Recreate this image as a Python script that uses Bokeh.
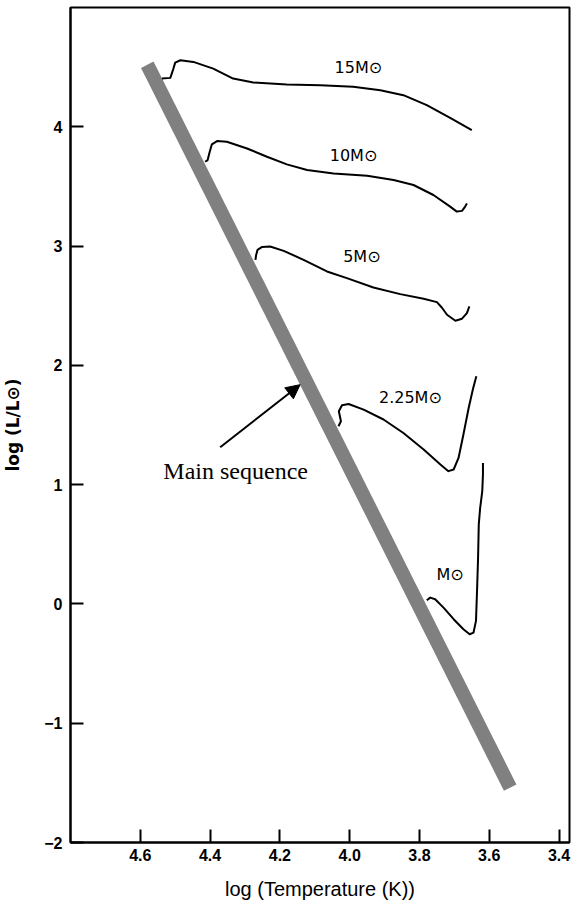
from bokeh.plotting import figure
from bokeh.models import Range1d, FixedTicker, PrintfTickFormatter, Arrow, NormalHead, ColumnDataSource
from bokeh.core.properties import value
from bokeh.embed import file_html
from bokeh.resources import INLINE

# ---- data ----
ms_logT = [4.58, 3.54]
ms_logL = [4.52, -1.54]

m15_logT = [4.538, 4.514, 4.505, 4.500, 4.485, 4.448, 4.391, 4.334, 4.276, 4.180, 4.084,
            3.990, 3.912, 3.846, 3.779, 3.712, 3.650]
m15_logL = [4.404, 4.410, 4.488, 4.538, 4.558, 4.544, 4.488, 4.404, 4.371, 4.354, 4.349,
            4.335, 4.307, 4.265, 4.182, 4.075, 3.972]

m10_logT = [4.414, 4.407, 4.401, 4.395, 4.380, 4.352, 4.294, 4.237, 4.180, 4.122, 4.046,
            3.950, 3.874, 3.817, 3.760, 3.712, 3.693, 3.678, 3.669, 3.664]
m10_logL = [3.707, 3.721, 3.791, 3.852, 3.880, 3.874, 3.818, 3.749, 3.685, 3.638, 3.609,
            3.590, 3.554, 3.512, 3.428, 3.331, 3.289, 3.295, 3.331, 3.358]

m5_logT = [4.270, 4.268, 4.264, 4.251, 4.228, 4.189, 4.132, 4.065, 4.008, 3.932, 3.855,
           3.788, 3.750, 3.736, 3.721, 3.697, 3.678, 3.664, 3.657]
m5_logL = [2.885, 2.926, 2.968, 2.993, 2.996, 2.960, 2.885, 2.787, 2.731, 2.653, 2.597,
           2.558, 2.530, 2.485, 2.424, 2.374, 2.391, 2.438, 2.494]

m225_logT = [4.032, 4.025, 4.031, 4.022, 4.003, 3.960, 3.903, 3.846, 3.788, 3.740, 3.717,
             3.702, 3.688, 3.674, 3.659, 3.647, 3.637]
m225_logL = [1.490, 1.531, 1.615, 1.665, 1.676, 1.629, 1.546, 1.433, 1.295, 1.169, 1.113,
             1.127, 1.224, 1.420, 1.643, 1.797, 1.908]

m1_logT = [3.779, 3.769, 3.755, 3.731, 3.702, 3.674, 3.656, 3.645, 3.638, 3.635, 3.632,
           3.630, 3.626, 3.620, 3.618, 3.618]
m1_logL = [0.031, 0.053, 0.039, -0.031, -0.128, -0.212, -0.254, -0.240, -0.142, 0.109, 0.387,
           0.667, 0.806, 0.946, 1.085, 1.182]

label_text = ["15M⊙", "10M⊙", "5M⊙", "2.25M⊙", "M⊙"]
label_logT = [3.975, 3.989, 3.965, 3.826, 3.712]
label_logL = [4.50, 3.763, 2.912, 1.727, 0.25]

ms_text = "Main sequence"
ms_text_logT = 4.534
ms_text_logL = 1.113
arrow_from = (4.371, 1.314)
arrow_to = (4.142, 1.838)

x_ticks = [4.6, 4.4, 4.2, 4.0, 3.8, 3.6, 3.4]
y_ticks = [-2, -1, 0, 1, 2, 3, 4]

# ---- figure ----
p = figure(width=572, height=907, output_backend="svg", toolbar_location=None,
           x_range=Range1d(4.80, 3.37), y_range=Range1d(-2.0, 5.0),
           min_border_left=70, min_border_right=3, min_border_top=7, min_border_bottom=65)
p.xgrid.visible = False
p.ygrid.visible = False
p.outline_line_color = "black"
p.outline_line_width = 2
p.background_fill_color = "white"
p.border_fill_color = "white"

FONT = "Liberation Sans"
for ax in (p.xaxis[0], p.yaxis[0]):
    ax.axis_line_width = 2
    ax.axis_line_color = "black"
    ax.major_tick_in = 13
    ax.major_tick_out = 0
    ax.major_tick_line_width = 2
    ax.minor_tick_line_color = None
    ax.major_label_text_font = FONT
    ax.major_label_text_font_size = "16px"
    ax.major_label_text_font_style = "bold"
    ax.major_label_text_color = "black"
    ax.axis_label_text_color = "black"

p.xaxis.ticker = FixedTicker(ticks=x_ticks)
p.xaxis.formatter = PrintfTickFormatter(format="%.1f")
p.xaxis.major_label_standoff = 6
p.xaxis.axis_label = "log (Temperature (K))"
p.xaxis.axis_label_text_font = FONT
p.xaxis.axis_label_text_font_size = "20px"
p.xaxis.axis_label_text_font_style = "normal"
p.xaxis.axis_label_standoff = 14

p.yaxis.ticker = FixedTicker(ticks=y_ticks)
p.yaxis.major_label_standoff = 8
p.yaxis.axis_label = "log (L/L⊙)"
p.yaxis.axis_label_text_font = "DejaVu Sans"
p.yaxis.axis_label_text_font_size = "17px"
p.yaxis.axis_label_text_font_style = "bold"
p.yaxis.axis_label_standoff = 18

# main sequence band
p.line(ms_logT, ms_logL, line_width=14, line_color="#808080", line_cap="butt")

# tracks
for xs, ys in [(m15_logT, m15_logL), (m10_logT, m10_logL), (m5_logT, m5_logL),
               (m225_logT, m225_logL), (m1_logT, m1_logL)]:
    p.line(xs, ys, line_width=2, line_color="black", line_join="round")

src = ColumnDataSource(dict(x=label_logT, y=label_logL, t=label_text))
p.text(x="x", y="y", text="t", source=src, text_font=value("DejaVu Sans"), text_font_size="16px",
       text_align="center", text_baseline="middle", text_color="black")

p.text(x=[ms_text_logT], y=[ms_text_logL], text=[ms_text], text_font=value("Liberation Serif"),
       text_font_size="24px", text_align="left", text_baseline="middle", text_color="black")

p.add_layout(Arrow(end=NormalHead(size=14, fill_color="black", line_color="black"),
                   x_start=arrow_from[0], y_start=arrow_from[1],
                   x_end=arrow_to[0], y_end=arrow_to[1],
                   line_width=2, line_color="black"))

open("out.html", "w").write(file_html(p, INLINE))
